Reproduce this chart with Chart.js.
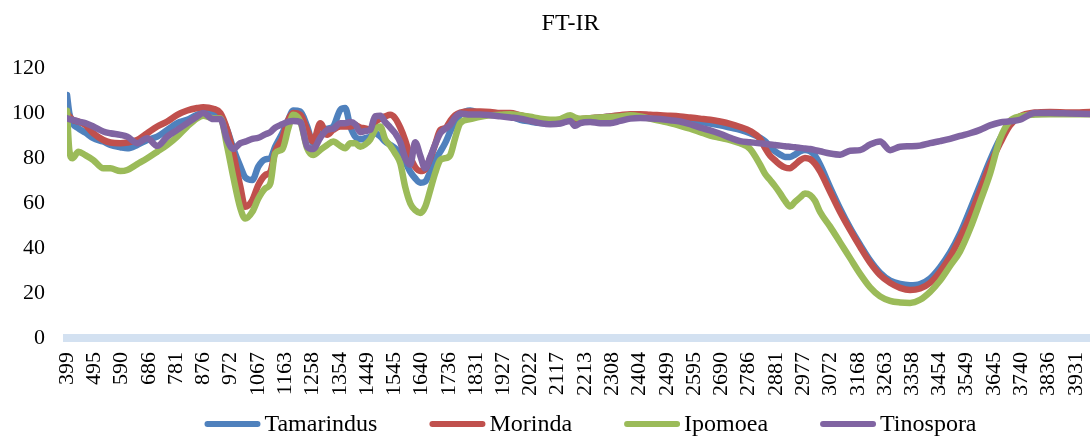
<!DOCTYPE html>
<html>
<head>
<meta charset="utf-8">
<title>FT-IR</title>
<script src="https://cdn.jsdelivr.net/npm/chart.js@4.4.1/dist/chart.umd.min.js"></script>
<style>
  html, body { margin: 0; padding: 0; background: #fff; }
  #wrap { width: 1090px; height: 436px; position: relative; }
</style>
</head>
<body>
<div id="wrap"><canvas id="ftir"></canvas></div>
<script>
const chartTitle = 'FT-IR';

// wavenumber (cm-1) of each sample
const wavenumbers = [
  399, 407, 418, 439, 463, 491, 526, 551, 586, 610, 645, 680, 715, 750, 785, 820, 855, 876,
  911, 936, 960, 981, 1006, 1023, 1048, 1069, 1093, 1111, 1128, 1153, 1174, 1191, 1216, 1240, 1261, 1286,
  1310, 1331, 1356, 1373, 1391, 1408, 1426, 1443, 1461, 1478, 1496, 1513, 1531, 1548, 1566, 1583, 1601, 1618,
  1636, 1653, 1671, 1688, 1706, 1723, 1741, 1758, 1776, 1811, 1846, 1881, 1916, 1951, 1986, 2021, 2056, 2091, 2126, 2161,
  2178, 2196, 2231, 2266, 2301, 2336, 2371, 2406, 2441, 2476, 2511, 2546, 2581, 2616, 2651, 2686,
  2721, 2756, 2791, 2826, 2843, 2861, 2878, 2896, 2913, 2931, 2948, 2966, 2983, 3001, 3018, 3036,
  3071, 3106, 3141, 3176, 3211, 3246, 3281, 3316, 3351, 3386, 3421, 3456, 3491, 3526, 3561, 3596,
  3631, 3666, 3701, 3736, 3788, 3841, 3911, 3981
];

// % transmittance
const tamarindus = [
  108, 100, 95.5, 93.2, 91.3, 88.8, 87.3, 85.8, 84.8, 84.3, 85.8, 88, 89.5, 92.5, 95.5, 97, 99.2, 100,
  99.6, 98.5, 92.5, 84.3, 76.2, 71.4, 70.2, 76.2, 79.4, 79.9, 85, 91, 97, 101.1, 100.7, 94, 86.6, 90,
  93, 94, 101.4, 102.2, 94, 89.5, 88.3, 88.8, 89.5, 91, 89.5, 87.3, 85.8, 84.3, 82.1, 78.4, 73.9, 71,
  69, 69.5, 73.9, 79.1, 82.8, 86.6, 91.8, 96.2, 99.2, 101.1, 99.6, 99.2, 98.8, 98.5, 97, 96.2, 95.5, 95.2, 95.5, 97,
  97, 97, 97.5, 98, 98.5, 98.8, 98.8, 98.5, 98.3, 98, 97.5, 97, 96.5, 96, 95.3, 94.5,
  93.5, 92.5, 91, 89, 87.5, 85, 83, 81.5, 80.5, 80.5, 81.5, 83, 83.6, 83, 81, 77,
  67, 57.5, 49, 41.5, 34.5, 29, 25.5, 24, 23.5, 24, 26.5, 31.5, 38, 46.5, 57, 68,
  79, 88.5, 95, 98.3, 99.5, 99.8, 99.8, 99.8
];
const morinda = [
  100, 98.5, 97, 96.2, 94.7, 91, 88, 86.9, 86.6, 86.9, 88, 91, 94, 96.2, 99.2, 101.1, 102.2, 102.6,
  101.9, 100, 92.5, 82.1, 67.2, 58.3, 61.3, 68, 72.4, 73.9, 82.8, 88.8, 97, 100, 99.2, 92.5, 87.3, 95.5,
  90.3, 92.5, 94, 94, 94, 94.7, 93.5, 93.2, 92.5, 96, 97.5, 98.5, 99.2, 97.7, 93.5, 88, 80.6, 76,
  74.2, 75, 80, 86, 92.5, 93.2, 96.5, 99, 100.2, 100.7, 100.7, 100.5, 100, 100, 99, 98, 97, 96.2, 96.2, 97.5,
  97, 97.2, 97.7, 98, 98.5, 99, 99.5, 99.5, 99.2, 99, 98.8, 98.5, 98, 97.5, 97, 96.2,
  95.2, 93.8, 92, 88.5, 84.5, 81, 79, 77, 75.8, 75.5, 77, 79, 80, 79.5, 77.5, 74,
  65, 56, 48, 40.5, 33.5, 28, 24.5, 22.3, 21.3, 22, 24.5, 29.5, 36, 44.5, 54, 65.5,
  77, 86.5, 94.5, 98.5, 100.2, 100.5, 100.2, 100.5
];
const ipomoea = [
  101, 83.6, 79.9, 82.8, 81.3, 79.1, 75.4, 75.4, 74.2, 74.7, 77.3, 79.9, 82.8, 85.8, 89.5, 94, 97.7, 98.8,
  97.7, 97.7, 85, 71.7, 57.6, 53.1, 56.1, 62, 66.5, 68.7, 82.1, 83.9, 93.2, 99.2, 96.2, 84.3, 81.3, 83.6,
  85.8, 87.3, 85.4, 84.3, 86.6, 86.6, 85, 86, 88.3, 92.5, 94, 88.3, 85.4, 82.1, 77.6, 67.2, 59.8, 56.8,
  55.6, 58.3, 65.8, 73.2, 79.1, 79.9, 81.3, 88.8, 95.5, 97.3, 98.3, 99, 99.2, 99.5, 99, 98.3, 97.5, 97, 97.3, 99,
  98, 97.5, 97.7, 98, 98.2, 98.5, 99, 98.5, 97.5, 96.5, 95.5, 94.3, 93, 91.5, 90, 89,
  88, 86.5, 84, 77, 73, 70.2, 67.5, 64.3, 61, 58.5, 60.5, 62.5, 64.2, 63.5, 61, 56,
  49.5, 42.5, 35.5, 28.5, 22.5, 18.5, 16.5, 15.8, 15.6, 17, 20.5, 25.5, 32, 38.5, 48.5, 60.5,
  73, 88.5, 96.5, 98.5, 99.3, 99.5, 99.5, 99.5
];
const tinospora = [
  97.7, 97.3, 97, 96.2, 95.5, 94, 91.8, 91, 90.3, 89.5, 86.6, 88.8, 85.4, 89.5, 92.5, 95.5, 98.5, 100,
  97.3, 97.3, 88, 84, 86.6, 87.3, 88.5, 89, 90.5, 91.5, 93.5, 95, 96.2, 96.5, 96, 85, 84, 89,
  92.5, 93, 95.5, 95.5, 96, 95, 91.5, 92, 92.5, 98.5, 98.8, 96, 93.5, 91, 87, 80, 77, 87,
  81, 75.4, 80.5, 86, 91, 93, 94.7, 98, 99.8, 99.3, 99.3, 99, 98.5, 98, 97.5, 96.5, 95.5, 95, 95.3, 96.5,
  94.3, 95.5, 96, 95.5, 95.5, 96.5, 97.5, 97.8, 97.6, 97.3, 96.8, 96.2, 95, 93.5, 92.3, 90.8,
  89, 87.5, 87, 86.5, 86.3, 86, 85.8, 85.5, 85.2, 85, 84.8, 84.5, 84.2, 84, 83.5, 83,
  82, 81.5, 83.2, 83.5, 86, 87.3, 83.5, 85, 85.2, 85.5, 86.6, 87.5, 88.5, 89.8, 91, 92.5,
  94.5, 95.8, 96.3, 97, 100, 100, 99.8, 99.6
];

const xTickLabels = [
  399, 495, 590, 686, 781, 876, 972, 1067, 1163, 1258, 1354, 1449, 1545, 1640, 1736, 1831, 1927, 2022, 2117,
  2213, 2308, 2404, 2499, 2595, 2690, 2786, 2881, 2977, 3072, 3168, 3263, 3358, 3454, 3549, 3645, 3740, 3836, 3931
];

const seriesNames = ['Tamarindus', 'Morinda', 'Ipomoea', 'Tinospora'];
const seriesValues = [tamarindus, morinda, ipomoea, tinospora];
const seriesColors = ['#4f81bd', '#c0504d', '#9bbb59', '#8064a2'];

Chart.defaults.font.family = "'Liberation Serif', 'Times New Roman', serif";
Chart.defaults.color = '#000';

// title above the plot and a line-sample key under the axis
const titleAndKey = {
  id: 'titleAndKey',
  afterDraw(chart) {
    const ctx = chart.ctx;
    const area = chart.chartArea;
    const mid = (area.left + area.right) / 2;
    ctx.save();
    ctx.fillStyle = '#000';
    ctx.textBaseline = 'middle';
    ctx.textAlign = 'center';
    ctx.font = "24px 'Liberation Serif'";
    ctx.fillText(chartTitle, mid - 8, 24);

    ctx.font = "24px 'Liberation Serif'";
    ctx.textAlign = 'left';
    const sets = chart.data.datasets;
    const lineLen = 56, gap = 4, spacing = 52;
    const widths = sets.map(d => ctx.measureText(d.label).width);
    let total = spacing * (sets.length - 1);
    widths.forEach(w => { total += lineLen + gap + w; });
    let x = mid + 12 - total / 2;
    const y = 424;
    sets.forEach((d, i) => {
      ctx.strokeStyle = d.borderColor;
      ctx.lineWidth = 6;
      ctx.lineCap = 'round';
      ctx.beginPath();
      ctx.moveTo(x + 3, y);
      ctx.lineTo(x + lineLen - 3, y);
      ctx.stroke();
      ctx.fillText(d.label, x + lineLen + gap, y + 1);
      x += lineLen + gap + widths[i] + spacing;
    });
    ctx.restore();
  }
};

const datasets = seriesNames.map((name, i) => ({
  label: name,
  data: wavenumbers.map((w, j) => ({ x: w, y: seriesValues[i][j] })),
  borderColor: seriesColors[i],
  backgroundColor: seriesColors[i],
  borderWidth: 6.5,
  borderCapStyle: 'round',
  borderJoinStyle: 'round',
  pointRadius: 0,
  cubicInterpolationMode: 'monotone',
  order: seriesNames.length - i
}));

new Chart(document.getElementById('ftir'), {
  type: 'line',
  data: { datasets },
  options: {
    responsive: true,
    maintainAspectRatio: false,
    animation: false,
    layout: { padding: { top: 68, left: 12, right: 0, bottom: 26 } },
    plugins: {
      legend: { display: false },
      title: { display: false },
      tooltip: { enabled: false }
    },
    scales: {
      x: {
        type: 'linear',
        min: 399,
        max: 3981,
        grid: { display: false, drawTicks: false },
        border: { display: true, color: '#d3e1f1', width: 8 },
        afterBuildTicks: scale => {
          scale.ticks = xTickLabels.map(v => ({ value: v }));
        },
        // rotated labels would otherwise push the plot in from both sides
        afterFit: scale => {
          scale.paddingLeft = 0;
          scale.paddingRight = 0;
        },
        ticks: {
          autoSkip: false,
          maxRotation: 90,
          minRotation: 90,
          padding: 14,
          font: { size: 22 },
          callback: v => String(v)
        }
      },
      y: {
        min: 0,
        max: 120,
        grid: { display: false, drawTicks: false },
        border: { display: false },
        afterFit: scale => { scale.width = 55; },
        ticks: { stepSize: 20, padding: 22, font: { size: 22 } }
      }
    }
  },
  plugins: [titleAndKey]
});
</script>
</body>
</html>
